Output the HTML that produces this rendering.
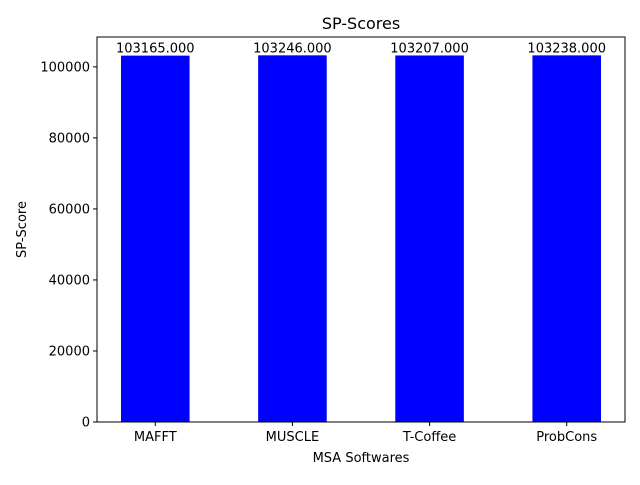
<!DOCTYPE html>
<html><head><meta charset="utf-8"><style>
body{margin:0;background:#fff}
svg text{font-family:"DejaVu Sans","Liberation Sans",sans-serif;fill:#000}
</style></head><body>
<svg id="chart" width="640" height="480">
<rect width="640" height="480" fill="#fff"/>
<text x="361" y="29" font-size="16" text-anchor="middle">SP-Scores</text>
<text x="361" y="462" font-size="13" text-anchor="middle">MSA Softwares</text>
<text transform="translate(26,229.5) rotate(-90)" font-size="13" text-anchor="middle">SP-Score</text>
<g id="bars"></g><g id="ticks"></g>
<rect x="97" y="37" width="528" height="385" fill="none" stroke="#000" stroke-width="1"/>
</svg>
<script>
const categories=["MAFFT","MUSCLE","T-Coffee","ProbCons"];
const values=[103165,103246,103207,103238];
const yTicks=[0,20000,40000,60000,80000,100000];
const L=97,R=625,T=37,B=422;
const yMax=Math.max(...values)*1.05;
const xMin=-0.425,xMax=categories.length-1+0.425;
const sx=v=>L+(v-xMin)/(xMax-xMin)*(R-L);
const sy=v=>B-v/yMax*(B-T);
const NS="http://www.w3.org/2000/svg";
const bars=document.getElementById("bars"),ticks=document.getElementById("ticks");
function mk(tag,attrs,parent){const e=document.createElementNS(NS,tag);for(const k in attrs)e.setAttribute(k,attrs[k]);parent.appendChild(e);return e;}
values.forEach((v,i)=>{
  const r=mk("rect",{x:sx(i-0.25),y:sy(v),width:sx(i+0.25)-sx(i-0.25),height:B-sy(v),fill:"#0000ff"},bars);
  
  
  const t=mk("text",{x:sx(i),y:sy(v)-3,"font-size":13,"text-anchor":"middle"},bars);
  t.textContent=v.toFixed(3);
  
  
  const tk=mk("line",{x1:sx(i),x2:sx(i),y1:B,y2:B+4,stroke:"#000"},ticks);
  
  
  const tl=mk("text",{x:sx(i),y:B+19,"font-size":13,"text-anchor":"middle"},ticks);
  tl.textContent=categories[i];
  
  
});
yTicks.forEach(v=>{
  const tk=mk("line",{x1:L-4,x2:L,y1:sy(v),y2:sy(v),stroke:"#000"},ticks);
  
  
  const tl=mk("text",{x:L-7,y:sy(v)+4.5,"font-size":13,"text-anchor":"end"},ticks);
  tl.textContent=String(v);
  
  
});
</script>
</body></html>
